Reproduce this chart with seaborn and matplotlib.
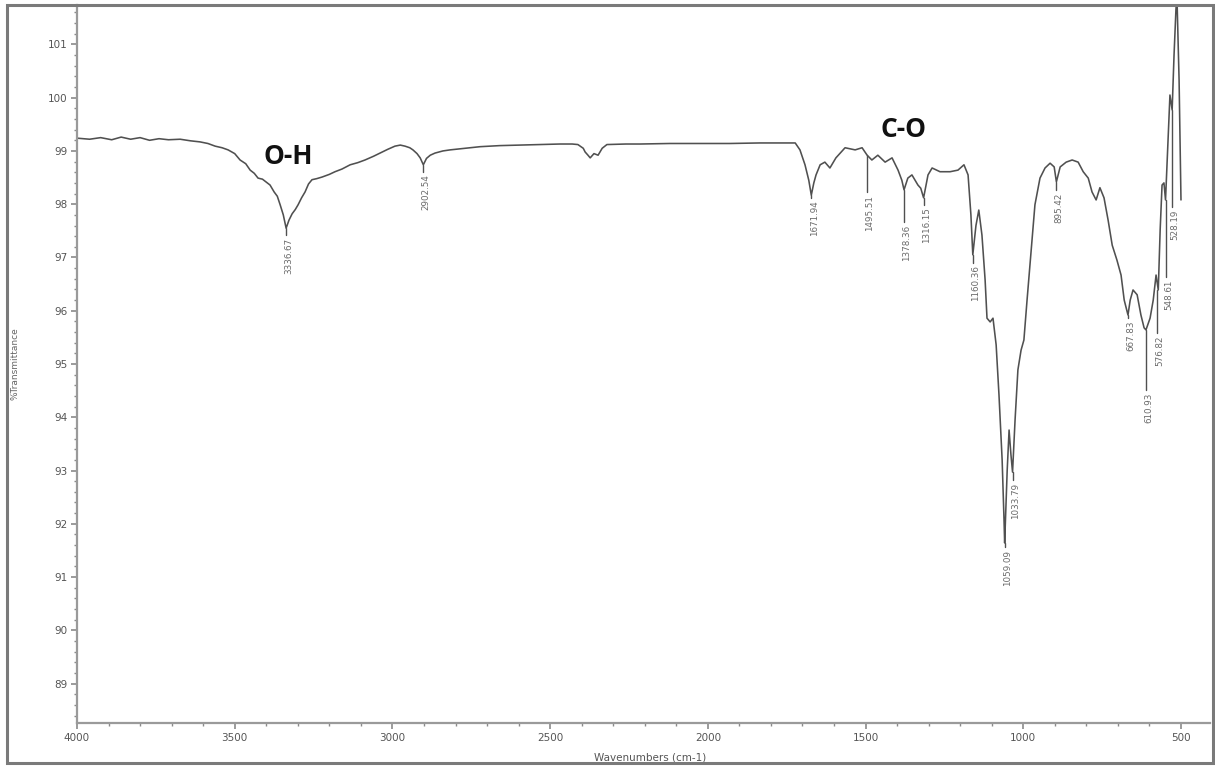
import matplotlib
matplotlib.use("Agg")
import matplotlib.pyplot as plt
from matplotlib.patches import Rectangle
from matplotlib.ticker import MultipleLocator
import seaborn as sns
import pandas as pd

# FTIR spectrum: wavenumber (cm-1) and % transmittance
wavenumber = [
    4000, 3960, 3925, 3890, 3860, 3830, 3800, 3770, 3740, 3710, 3673, 3640,
    3610, 3585, 3562, 3540, 3521, 3500, 3483, 3465, 3451, 3438, 3426, 3412,
    3401, 3388, 3375, 3365, 3356, 3346, 3337, 3328, 3318, 3308, 3299, 3288,
    3277, 3266, 3255, 3240, 3223, 3200, 3182, 3160, 3134, 3110, 3087, 3060,
    3039, 3015, 2992, 2975, 2960, 2945, 2935, 2922, 2912, 2902, 2892, 2880,
    2865, 2840, 2817, 2770, 2722, 2660, 2595, 2530, 2469, 2430, 2412, 2395,
    2389, 2380, 2373, 2361, 2348, 2335, 2320, 2260, 2215, 2120, 2025, 1930,
    1835, 1760, 1723, 1708, 1692, 1680, 1672, 1664, 1657, 1644, 1629, 1613,
    1594, 1565, 1533, 1511, 1495, 1480, 1461, 1438, 1416, 1397, 1385, 1378,
    1366, 1353, 1334, 1325, 1316, 1302, 1289, 1264, 1232, 1207, 1188, 1175,
    1166, 1160, 1150, 1141, 1131, 1121, 1115, 1105, 1096, 1086, 1077, 1067,
    1061, 1059, 1051, 1045, 1039, 1034, 1026, 1017, 1007, 998, 988, 975,
    963, 947, 931, 915, 902, 895, 883, 864, 845, 826, 810, 794, 782, 769,
    757, 744, 731, 718, 703, 690, 680, 668, 661, 652, 639, 627, 617, 611,
    598, 588, 579, 572, 566, 560, 554, 549, 541, 535, 528, 522, 516, 513,
    506, 500,
]
transmittance = [
    99.24, 99.22, 99.25, 99.21, 99.26, 99.22, 99.25, 99.20, 99.23, 99.21, 99.22, 99.19,
    99.17, 99.14, 99.09, 99.06, 99.02, 98.95, 98.83, 98.76, 98.64, 98.58, 98.49, 98.47,
    98.42, 98.36, 98.23, 98.15, 97.99, 97.80, 97.55, 97.70, 97.82, 97.90, 97.99, 98.12,
    98.23, 98.38, 98.46, 98.48, 98.51, 98.56, 98.61, 98.66, 98.74, 98.78, 98.83, 98.90,
    98.96, 99.03, 99.09, 99.11, 99.09, 99.06, 99.02, 98.95, 98.87, 98.74, 98.86, 98.92,
    98.96, 99.00, 99.02, 99.05, 99.08, 99.10, 99.11, 99.12, 99.13, 99.13, 99.12, 99.05,
    98.98, 98.92, 98.87, 98.95, 98.92, 99.05, 99.12, 99.13, 99.13, 99.14, 99.14, 99.14,
    99.15, 99.15, 99.15, 99.02, 98.74, 98.45, 98.17, 98.40, 98.55, 98.74, 98.79, 98.68,
    98.87, 99.06, 99.02, 99.06, 98.92, 98.83, 98.92, 98.79, 98.87, 98.64, 98.45, 98.27,
    98.49, 98.55, 98.36, 98.30, 98.12, 98.55, 98.68, 98.61, 98.61, 98.64, 98.74, 98.55,
    97.80, 97.05, 97.60, 97.89, 97.42, 96.58, 95.86, 95.79, 95.86, 95.36, 94.42, 93.20,
    92.07, 91.64, 93.00, 93.76, 93.29, 92.97, 93.95, 94.89, 95.26, 95.45, 96.20, 97.14,
    97.99, 98.49, 98.68, 98.77, 98.70, 98.42, 98.70, 98.79, 98.83, 98.79, 98.61, 98.49,
    98.23, 98.08, 98.31, 98.12, 97.70, 97.23, 96.95, 96.67, 96.20, 95.92, 96.20, 96.39,
    96.30, 95.92, 95.68, 95.64, 95.86, 96.20, 96.67, 96.39, 97.52, 98.36, 98.40, 98.08,
    99.20, 100.05, 99.77, 100.80, 101.65, 101.95, 100.33, 98.08,
]

# Labelled peaks (cm-1) and the transmittance at each peak
peak_wavenumber = [3336.67, 2902.54, 1671.94, 1495.51, 1378.36, 1316.15, 1160.36,
                   1059.09, 1033.79, 895.42, 667.83, 610.93, 576.82, 548.61, 528.19]
peak_transmittance = [97.55, 98.74, 98.17, 98.92, 98.27, 98.12, 97.05,
                      91.64, 92.97, 98.42, 95.92, 95.64, 96.39, 98.08, 99.77]
peak_labels = ["3336.67", "2902.54", "1671.94", "1495.51", "1378.36", "1316.15", "1160.36",
               "1059.09", "1033.79", "895.42", "667.83", "610.93", "576.82", "548.61", "528.19"]

# Where each peak label starts (leader lines run from the peak down to here)
label_top = [97.42, 98.61, 98.12, 98.23, 97.67, 97.99, 96.90,
             91.56, 92.82, 98.27, 95.86, 94.51, 95.58, 96.63, 97.95]

# Functional-group annotations
group_names = ["O-H", "C-O"]
group_wavenumber = [3330, 1380]
group_transmittance = [98.90, 99.40]

df = pd.DataFrame({"Wavenumber": wavenumber, "Transmittance": transmittance})

sns.set_theme(style="white")
plt.rcParams["font.family"] = ["DejaVu Sans"]

fig = plt.figure(figsize=(12.15, 7.67), dpi=100)
ax = fig.add_axes([77 / 1215, 1 - 723 / 767, (1210 - 77) / 1215, (723 - 5) / 767])

line_color = "#505050"
sns.lineplot(data=df, x="Wavenumber", y="Transmittance", ax=ax,
             color=line_color, linewidth=1.15, estimator=None, sort=True)

# Peak labels with leader lines
for w, t, lab, top in zip(peak_wavenumber, peak_transmittance, peak_labels, label_top):
    ax.plot([w, w], [t, top], color=line_color, linewidth=1.0)
    ax.annotate(lab, xy=(w, top), xytext=(2, -2), textcoords="offset points",
                rotation=90, ha="center", va="top", fontsize=6.3, color="#6a6a6a")

for name, w, t in zip(group_names, group_wavenumber, group_transmittance):
    ax.text(w, t, name, ha="center", va="center", fontsize=19, fontweight="bold",
            family=["Open Sans", "DejaVu Sans"], color="#111111")

ax.set_xlim(4000, 408)
ax.set_ylim(88.26, 101.74)
ax.xaxis.set_major_locator(MultipleLocator(500))
ax.xaxis.set_minor_locator(MultipleLocator(100))
ax.yaxis.set_major_locator(MultipleLocator(1))
ax.yaxis.set_minor_locator(MultipleLocator(0.2))
ax.tick_params(axis="both", which="major", direction="out", length=4, width=1.2,
               colors="#8a8a8a", labelcolor="#555555", labelsize=7.5, pad=3)
ax.tick_params(axis="both", which="minor", direction="out", length=2.5, width=1.0,
               colors="#8a8a8a")
ax.tick_params(axis="x", which="both", bottom=True)
ax.tick_params(axis="y", which="both", left=True)

for side in ["top", "right"]:
    ax.spines[side].set_visible(False)
for side in ["left", "bottom"]:
    ax.spines[side].set_color("#9a9a9a")
    ax.spines[side].set_linewidth(1.6)

ax.set_xlabel("Wavenumbers (cm-1)", fontsize=7.5, color="#555555", labelpad=3)
ax.xaxis.set_label_coords((650 - 77) / (1210 - 77), -(752 - 723) / (723 - 5))
ax.set_ylabel("")
fig.text(15 / 1215, 1 - 364 / 767, "%Transmittance", rotation=90, ha="center", va="center",
         fontsize=6.5, color="#666666")

# Outer frame around the figure
fig.patches.append(Rectangle((7 / 1215, 1 - 763 / 767), 1206 / 1215, 758 / 767,
                             transform=fig.transFigure, fill=False,
                             edgecolor="#7a7a7a", linewidth=2.2))

fig.savefig("out.png", dpi=100)
